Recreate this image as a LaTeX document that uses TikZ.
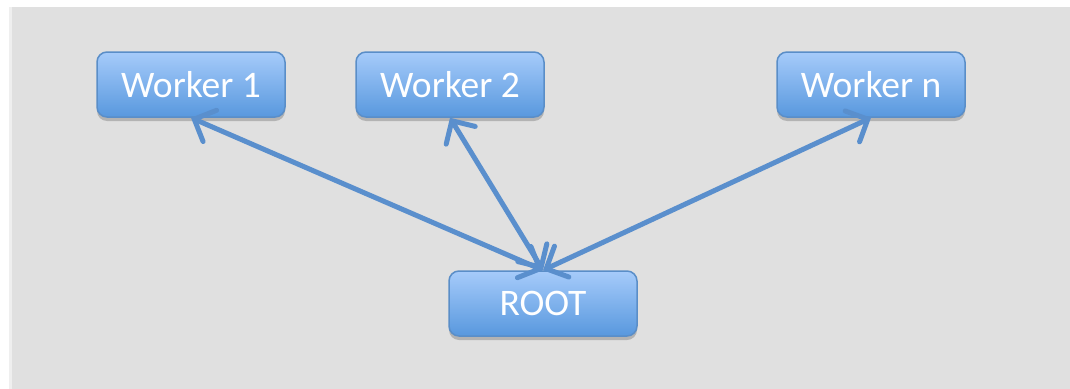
\documentclass[tikz,border=0pt]{standalone}
\usepackage{fontspec}
\setmainfont{Carlito}
\usetikzlibrary{arrows.meta,shadows,shadings}
\definecolor{panel}{HTML}{E0E0E0}
\definecolor{boxtop}{HTML}{A6CBFA}
\definecolor{boxbot}{HTML}{5898DE}
\definecolor{boxedge}{HTML}{5A8EC8}
\definecolor{link}{HTML}{5A8FCD}
\tikzset{
  worker/.style={
    draw=boxedge, line width=1.5pt, rounded corners=10pt,
    top color=boxtop, bottom color=boxbot,
    minimum width=188pt, minimum height=65pt, inner sep=0pt,
    text=white, font=\fontsize{37.5}{42}\selectfont,
    drop shadow={shadow xshift=0pt, shadow yshift=-4pt, opacity=0.3, fill=black!70}
  },
  link/.style={
    draw=link, line width=5pt, line cap=round,
    {Straight Barb[length=17pt, width=34pt, line cap=round]}-{Straight Barb[length=17pt, width=34pt, line cap=round]}
  }
}
\begin{document}
\begin{tikzpicture}[x=1pt, y=-1pt]
  \useasboundingbox (0,0) rectangle (1070,388);
  % grey panel behind the diagram
  \fill[black!12, opacity=0.5] (9,7) rectangle (1075,395);
  \fill[panel] (12,7) rectangle (1075,395);

  \node[worker] (w1)   at (191,84.5)  {Worker 1};
  \node[worker] (w2)   at (450,84.5)  {Worker 2};
  \node[worker] (wn)   at (871,84.5)  {Worker n};
  \node[worker] (root) at (543,303.5) {ROOT};

  \draw[link] (w1.south) -- (root.north);
  \draw[link] (w2.south) -- (root.north);
  \draw[link] (wn.south) -- (root.north);
\end{tikzpicture}
\end{document}
